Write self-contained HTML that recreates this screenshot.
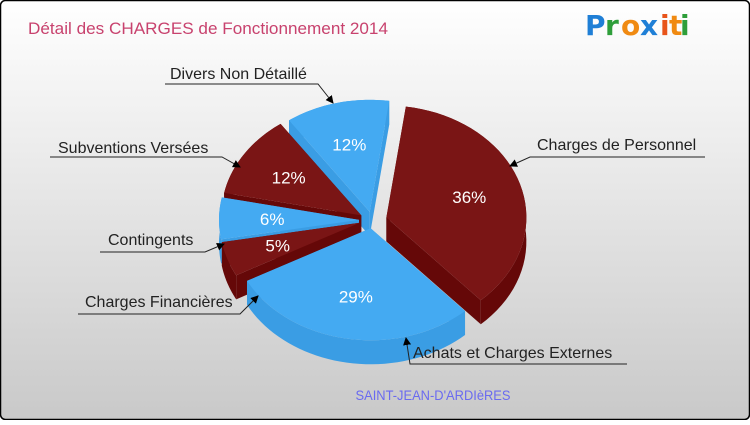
<!DOCTYPE html>
<html><head><meta charset="utf-8"><style>
html,body{margin:0;padding:0;}
body{width:750px;height:420px;overflow:hidden;font-family:"Liberation Sans",sans-serif;}
</style></head><body>
<svg id="c" width="750" height="420" viewBox="0 0 750 420" xmlns="http://www.w3.org/2000/svg">
<defs>
<linearGradient id="bg" x1="0" y1="0" x2="0" y2="1"><stop offset="0" stop-color="#ffffff"/><stop offset="1" stop-color="#c9c9c9"/></linearGradient>
<marker id="ar" markerWidth="8" markerHeight="8" refX="7" refY="4" orient="auto" markerUnits="userSpaceOnUse"><path d="M0,0 L8,4 L0,8 z" fill="#000"/></marker>
</defs>
<rect x="0.5" y="0.5" width="749" height="419" rx="5" fill="url(#bg)" stroke="#000" stroke-width="1.5"/>
<text x="28" y="34" font-size="17" fill="#c8426e" textLength="360" lengthAdjust="spacingAndGlyphs">Détail des CHARGES de Fonctionnement 2014</text>
<g font-family="'DejaVu Sans',sans-serif" font-weight="bold" font-size="28">
<text x="585" y="35" fill="#1f7fd6">P</text><text x="605" y="35" fill="#2e9e3a">r</text><text x="621" y="35" fill="#f08a12">o</text><text x="640" y="35" fill="#1f7fd6">x</text><text x="660" y="35" fill="#e8541a">i</text><text x="669" y="35" fill="#f08a12">t</text><text x="680" y="35" fill="#2e9e3a">i</text>
</g>
<g id="pie"></g>
<g id="lab"></g>
<text x="433" y="400" text-anchor="middle" font-size="14" fill="#6a6af0" textLength="155" lengthAdjust="spacingAndGlyphs">SAINT-JEAN-D'ARDIèRES</text>
</svg>
<script>
const categories=["Charges de Personnel","Achats et Charges Externes","Charges Financières","Contingents","Subventions Versées","Divers Non Détaillé"];
const values=[36,29,5,6,12,12];
const percentLabels=["36%","29%","5%","6%","12%","12%"];
const colorsTop=["#7a1515","#44aaf2","#7a1515","#44aaf2","#7a1515","#44aaf2"];
const colorsSide=["#650808","#3a9de4","#650808","#3a9de4","#650808","#3a9de4"];
const NS="http://www.w3.org/2000/svg";
const cx=373,cy=220,rx=140,ry=112,depth=24,expl=14,start=8*Math.PI/180;
const pie=document.getElementById('pie');
const total=values.reduce((a,b)=>a+b,0);
function P(a,r,ox,oy,dz){return [cx+ox+r*rx*Math.sin(a), cy+oy-r*ry*Math.cos(a)+(dz||0)];}
function arc(a0,a1,ox,oy,dz,rev){const pts=[];const n=40;for(let i=0;i<=n;i++){const t=rev?a1-(a1-a0)*i/n:a0+(a1-a0)*i/n;pts.push(P(t,1,ox,oy,dz));}return pts;}
function mk(tag,attrs){const e=document.createElementNS(NS,tag);for(const k in attrs)e.setAttribute(k,attrs[k]);return e;}
let acc=0;const slices=[];
values.forEach((v,i)=>{const a0=start+acc/total*2*Math.PI;acc+=v;const a1=start+acc/total*2*Math.PI;const m=(a0+a1)/2;
slices.push({i,a0,a1,m,ox:expl*Math.sin(m),oy:-expl*Math.cos(m)*0.6});});
const order=slices.slice().sort((a,b)=>(-Math.cos(a.m))-(-Math.cos(b.m)));
order.forEach(s=>{
 const g=mk('g',{});
 
 
 const c=P(0,0,s.ox,s.oy);
 [s.a0,s.a1].forEach(a=>{const p=P(a,1,s.ox,s.oy);const w=mk('polygon',{points:[c,p,[p[0],p[1]+depth],[c[0],c[1]+depth]].map(q=>q.join(',')).join(' '),fill:colorsSide[s.i]});g.appendChild(w);});
 const top=arc(s.a0,s.a1,s.ox,s.oy,0,false);const bot=arc(s.a0,s.a1,s.ox,s.oy,depth,true);
 g.appendChild(mk('polygon',{points:top.concat(bot).map(q=>q.join(',')).join(' '),fill:colorsSide[s.i]}));
 g.appendChild(mk('polygon',{points:[c].concat(top).map(q=>q.join(',')).join(' '),fill:colorsTop[s.i]}));
 const lp=P(s.m,0.62,s.ox,s.oy);
 const t=mk('text',{x:lp[0],y:lp[1]+6,'text-anchor':'middle','font-size':'17',fill:'#fff'});
 
 
 t.textContent=percentLabels[s.i];g.appendChild(t);
 pie.appendChild(g);
});
const callTexts=["Charges de Personnel","Achats et Charges Externes","Charges Financières","Contingents","Subventions Versées","Divers Non Détaillé"];
const callTx=[537,413,85,108,58,170];
const callTy=[150,358,307,245,153,79];
const lab=document.getElementById('lab');
const lines=[
 "705,157 530,157 510,166","627,364 410,364 406,338","78,314 240,314 258,296","100,252 205,252 224,244","50,157 222,157 240,167","165,84 318,84 333,103"];
callTexts.forEach((s,i)=>{
 const t=mk('text',{x:callTx[i],y:callTy[i],'font-size':'16',fill:'#222'});
 
 
 t.textContent=s;lab.appendChild(t);
 const l=mk('polyline',{points:lines[i],fill:'none',stroke:'#222','stroke-width':'1','marker-end':'url(#ar)'});
 
 
 lab.appendChild(l);
});
</script>
</body></html>
